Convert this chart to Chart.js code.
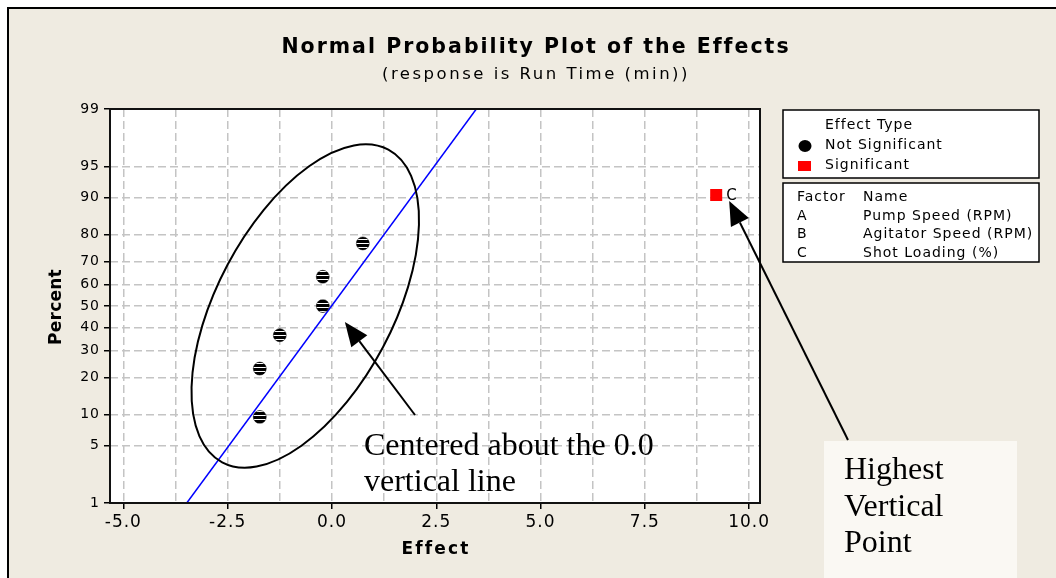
<!DOCTYPE html>
<html>
<head>
<meta charset="utf-8">
<script src="https://cdn.jsdelivr.net/npm/chart.js"></script>
<style>
  body { margin: 0; background: #fff; }
  #wrap { width: 1056px; height: 578px; }
</style>
</head>
<body>
<div id="wrap"><canvas id="myChart" width="1056" height="578"></canvas></div>
<script>
// effects, percent = normal score position of each effect
const effectsNotSig = [-1.73, -1.73, -1.25, -0.22, -0.22, 0.74];
const percentNotSig = [9.5, 23.0, 36.5, 50.0, 63.5, 77.0];
const effectsSig = [9.21];
const percentSig = [90.5];
const labelsSig = ['C'];

// fitted normal line (end points)
const fitEffect = [-3.48, 3.46];
const fitPercent = [1, 99];

const percentTicks = [1, 5, 10, 20, 30, 40, 50, 60, 70, 80, 90, 95, 99];
const effectTicks = [-5.0, -3.75, -2.5, -1.25, 0, 1.25, 2.5, 3.75, 5.0, 6.25, 7.5, 8.75, 10.0];

const factorCodes = ['A', 'B', 'C'];
const factorNames = ['Pump Speed (RPM)', 'Agitator Speed (RPM)', 'Shot Loading (%)'];

const BEIGE = '#efebe1';

// inverse normal cdf (Acklam)
function probit(p) {
  const a = [-3.969683028665376e+01, 2.209460984245205e+02, -2.759285104469687e+02, 1.383577518672690e+02, -3.066479806614716e+01, 2.506628277459239e+00];
  const b = [-5.447609879822406e+01, 1.615858368580409e+02, -1.556989798598866e+02, 6.680131188771972e+01, -1.328068155288572e+01];
  const c = [-7.784894002430293e-03, -3.223964580411365e-01, -2.400758277161838e+00, -2.549732539343734e+00, 4.374664141464968e+00, 2.938163982698783e+00];
  const d = [7.784695709041462e-03, 3.224671290700398e-01, 2.445134137142996e+00, 3.754408661907416e+00];
  const pl = 0.02425;
  let q, r;
  if (p < pl) {
    q = Math.sqrt(-2 * Math.log(p));
    return (((((c[0]*q+c[1])*q+c[2])*q+c[3])*q+c[4])*q+c[5]) / ((((d[0]*q+d[1])*q+d[2])*q+d[3])*q+1);
  }
  if (p > 1 - pl) {
    q = Math.sqrt(-2 * Math.log(1 - p));
    return -(((((c[0]*q+c[1])*q+c[2])*q+c[3])*q+c[4])*q+c[5]) / ((((d[0]*q+d[1])*q+d[2])*q+d[3])*q+1);
  }
  q = p - 0.5; r = q * q;
  return (((((a[0]*r+a[1])*r+a[2])*r+a[3])*r+a[4])*r+a[5])*q / (((((b[0]*r+b[1])*r+b[2])*r+b[3])*r+b[4])*r+1);
}

function isMajor(v) {
  return Math.abs(v / 2.5 - Math.round(v / 2.5)) < 1e-6;
}

// the scanned dots have thin white stripes
function stripes() {
  const c = document.createElement('canvas');
  c.width = 4; c.height = 4;
  const g = c.getContext('2d');
  g.fillStyle = '#000'; g.fillRect(0, 0, 4, 3);
  g.fillStyle = '#fff'; g.fillRect(0, 3, 4, 1);
  return g.createPattern(c, 'repeat');
}

function text(c, str, x, y, font, width, align) {
  c.font = font;
  c.letterSpacing = '0px';
  if (width) {
    const w = c.measureText(str).width;
    c.letterSpacing = ((width - w) / str.length) + 'px';
  }
  c.textAlign = align || 'left';
  c.fillText(str, x, y);
}

function arrow(c, x1, y1, x2, y2) {
  const ang = Math.atan2(y2 - y1, x2 - x1);
  const len = 24, half = 10;
  const bx = x2 - len * Math.cos(ang), by = y2 - len * Math.sin(ang);
  c.beginPath();
  c.moveTo(x1, y1);
  c.lineTo(bx, by);
  c.lineWidth = 2;
  c.strokeStyle = '#000';
  c.stroke();
  c.beginPath();
  c.moveTo(x2, y2);
  c.lineTo(bx + half * Math.sin(ang), by - half * Math.cos(ang));
  c.lineTo(bx - half * Math.sin(ang), by + half * Math.cos(ang));
  c.closePath();
  c.fillStyle = '#000';
  c.fill();
}

const background = {
  id: 'background',
  beforeDraw(chart) {
    const c = chart.ctx, a = chart.chartArea;
    c.save();
    c.fillStyle = '#fff';
    c.fillRect(0, 0, chart.width, chart.height);
    c.fillStyle = BEIGE;
    c.fillRect(8, 8, chart.width, chart.height);
    c.fillStyle = '#000';
    c.fillRect(7, 7, chart.width, 2);
    c.fillRect(7, 7, 2, chart.height);
    c.fillStyle = '#fff';
    c.fillRect(a.left, a.top, a.right - a.left, a.bottom - a.top);
    c.restore();
    c.letterSpacing = '1px';
  }
};

const frame = {
  id: 'frame',
  afterDatasetsDraw(chart) {
    const c = chart.ctx, a = chart.chartArea;
    c.save();
    c.strokeStyle = '#111';
    c.lineWidth = 2;
    c.strokeRect(a.left, a.top, a.right - a.left, a.bottom - a.top);
    c.restore();
  }
};

const extras = {
  id: 'extras',
  afterDraw(chart) {
    const c = chart.ctx;
    const xs = chart.scales.x, ys = chart.scales.y;
    c.save();
    c.fillStyle = '#000';
    c.textBaseline = 'middle';

    // titles
    text(c, 'Normal Probability Plot of the Effects', 536, 48, 'bold 20.5px "DejaVu Sans"', 508, 'center');
    text(c, '(response is Run Time (min))', 536, 75, '16.5px "DejaVu Sans"', 308, 'center');
    text(c, 'Effect', 436, 550, 'bold 17px "DejaVu Sans"', 68, 'center');
    c.save();
    c.translate(57, 307);
    c.rotate(-Math.PI / 2);
    text(c, 'Percent', 0, 0, 'bold 17px "DejaVu Sans"', 76, 'center');
    c.restore();

    // point label
    const sigMeta = chart.getDatasetMeta(1).data;
    sigMeta.forEach((pt, i) => {
      text(c, labelsSig[i], pt.x + 10, pt.y + 1, '15px "DejaVu Sans"', 0, 'left');
    });

    // legend boxes
    c.lineWidth = 1.5;
    c.strokeStyle = '#000';
    c.fillStyle = '#fff';
    c.fillRect(783, 110, 256, 68);
    c.strokeRect(783, 110, 256, 68);
    c.fillRect(783, 183, 256, 79);
    c.strokeRect(783, 183, 256, 79);
    c.fillStyle = '#000';
    c.font = '14px "DejaVu Sans"';
    c.letterSpacing = '1px';
    c.textAlign = 'left';
    c.fillText('Effect Type', 825, 125);
    c.fillText(chart.data.datasets[0].label, 825, 145);
    c.fillText(chart.data.datasets[1].label, 825, 165);
    c.beginPath();
    c.ellipse(805, 146, 6.5, 6, 0, 0, Math.PI * 2);
    c.fill();
    c.fillStyle = chart.data.datasets[1].backgroundColor;
    c.fillRect(798, 161, 13, 10);
    c.fillStyle = '#000';
    c.fillText('Factor', 797, 197);
    c.fillText('Name', 863, 197);
    factorCodes.forEach((f, i) => {
      const y = 216 + i * 18.5;
      c.fillText(f, 797, y);
      c.fillText(factorNames[i], 863, y);
    });

    // hand-drawn annotations
    const cx = xs.getPixelForValue(-0.64), cy = ys.getPixelForValue(probit(0.5));
    c.beginPath();
    c.ellipse(cx, cy, 88, 177, 28 * Math.PI / 180, 0, Math.PI * 2);
    c.lineWidth = 2;
    c.strokeStyle = '#000';
    c.stroke();

    arrow(c, 415, 415, xs.getPixelForValue(0.31), ys.getPixelForValue(probit(0.425)));
    c.fillStyle = '#000';
    c.textBaseline = 'alphabetic';
    text(c, 'Centered about the 0.0', 364, 455, '32px "Liberation Serif"', 0, 'left');
    text(c, 'vertical line', 364, 491, '32px "Liberation Serif"', 0, 'left');

    c.fillStyle = '#faf8f3';
    c.fillRect(824, 441, 193, 140);
    c.fillStyle = '#000';
    text(c, 'Highest', 844, 479, '32px "Liberation Serif"', 0, 'left');
    text(c, 'Vertical', 844, 516, '32px "Liberation Serif"', 0, 'left');
    text(c, 'Point', 844, 552, '32px "Liberation Serif"', 0, 'left');
    const tip = sigMeta[0];
    arrow(c, 848, 440, tip.x + 13, tip.y + 6);
    c.restore();
  }
};

const ctx = document.getElementById('myChart');

new Chart(ctx, {
  type: 'scatter',
  data: {
    datasets: [
      {
        label: 'Not Significant',
        data: effectsNotSig.map((e, i) => ({ x: e, y: probit(percentNotSig[i] / 100) })),
        pointStyle: 'circle',
        pointRadius: 6.5,
        backgroundColor: stripes(),
        borderColor: '#000',
        borderWidth: 0.5,
        order: 1
      },
      {
        label: 'Significant',
        data: effectsSig.map((e, i) => ({ x: e, y: probit(percentSig[i] / 100) })),
        pointStyle: 'rect',
        pointRadius: 8.5,
        backgroundColor: '#ff0000',
        borderWidth: 0,
        order: 2
      },
      {
        type: 'line',
        label: 'fit',
        data: fitEffect.map((e, i) => ({ x: e, y: probit(fitPercent[i] / 100) })),
        borderColor: '#0000ff',
        borderWidth: 1.5,
        pointRadius: 0,
        fill: false,
        order: 3
      }
    ]
  },
  options: {
    responsive: false,
    animation: false,
    layout: { padding: { top: 109, right: 296, left: 0, bottom: 0 } },
    plugins: {
      legend: { display: false },
      tooltip: { enabled: false }
    },
    scales: {
      x: {
        type: 'linear',
        min: -5.32,
        max: 10.26,
        afterBuildTicks: s => { s.ticks = effectTicks.map(v => ({ value: v })); },
        afterFit: s => { s.height = 75; },
        ticks: {
          autoSkip: false,
          maxRotation: 0,
          color: '#000',
          padding: 3,
          font: { family: 'DejaVu Sans', size: 17 },
          callback: v => isMajor(v) ? v.toFixed(1) : ''
        },
        grid: {
          color: '#c4c4c4',
          lineWidth: 1.5,
          tickLength: 6,
          tickWidth: 1.5,
          tickColor: c => (c.tick && isMajor(c.tick.value)) ? '#000' : 'rgba(0,0,0,0)'
        },
        border: { display: false, dash: [8, 4] }
      },
      y: {
        type: 'linear',
        min: probit(0.01),
        max: probit(0.99),
        afterBuildTicks: s => { s.ticks = percentTicks.map(p => ({ value: probit(p / 100) })); },
        afterFit: s => { s.width = 110; },
        ticks: {
          autoSkip: false,
          color: '#000',
          padding: 4,
          font: { family: 'DejaVu Sans', size: 14 },
          callback: (v, i) => percentTicks[i]
        },
        grid: {
          color: '#c4c4c4',
          lineWidth: 1.5,
          tickLength: 6,
          tickWidth: 1.5,
          tickColor: '#000'
        },
        border: { display: false, dash: [8, 4] }
      }
    }
  },
  plugins: [background, frame, extras]
});
</script>
</body>
</html>
